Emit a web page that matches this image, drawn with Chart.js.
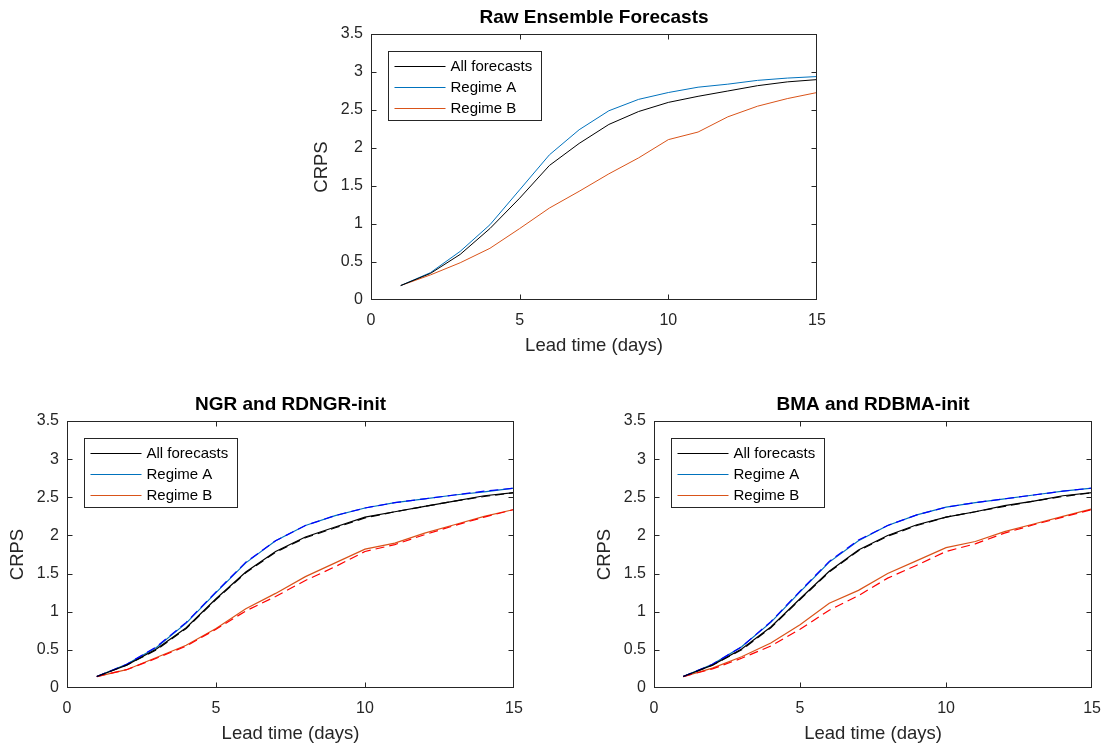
<!DOCTYPE html>
<html>
<head>
<meta charset="utf-8">
<script src="https://cdn.jsdelivr.net/npm/chart.js@4.4.1/dist/chart.umd.min.js"></script>
<style>
  html, body { margin: 0; padding: 0; background: #fff; overflow: hidden; width: 1112px; height: 743px; }
  canvas { position: absolute; }
</style>
</head>
<body>
<canvas id="cTop"></canvas>
<canvas id="cLeft"></canvas>
<canvas id="cRight"></canvas>
<script>
// ---------- DATA ----------
const leadDays = [1, 2, 3, 4, 5, 6, 7, 8, 9, 10, 11, 12, 13, 14, 15];
const xTickValues = [0, 5, 10, 15];
const yTickValues = [0, 0.5, 1, 1.5, 2, 2.5, 3, 3.5];
const legendLabels = ['All forecasts', 'Regime A', 'Regime B'];
const chartTitles = ['Raw Ensemble Forecasts', 'NGR and RDNGR-init', 'BMA and RDBMA-init'];
const xAxisLabel = 'Lead time (days)';
const yAxisLabel = 'CRPS';

// Raw ensemble
const rawAll = [0.19, 0.35, 0.60, 0.94, 1.34, 1.77, 2.06, 2.31, 2.48, 2.60, 2.68, 2.75, 2.82, 2.87, 2.90];
const rawA   = [0.19, 0.36, 0.64, 0.99, 1.45, 1.91, 2.24, 2.49, 2.64, 2.73, 2.80, 2.84, 2.89, 2.92, 2.94];
const rawB   = [0.19, 0.33, 0.49, 0.68, 0.94, 1.21, 1.43, 1.66, 1.87, 2.11, 2.21, 2.41, 2.55, 2.65, 2.73];

// NGR (solid) and RDNGR-init (dashed)
const ngrAll   = [0.15, 0.30, 0.51, 0.79, 1.17, 1.52, 1.79, 1.98, 2.11, 2.24, 2.31, 2.38, 2.45, 2.52, 2.56];
const ngrA     = [0.15, 0.31, 0.53, 0.85, 1.25, 1.64, 1.93, 2.13, 2.26, 2.36, 2.43, 2.48, 2.53, 2.57, 2.62];
const ngrB     = [0.15, 0.24, 0.40, 0.56, 0.78, 1.04, 1.24, 1.46, 1.64, 1.82, 1.90, 2.03, 2.14, 2.25, 2.34];
const rdngrAll = [0.15, 0.30, 0.50, 0.78, 1.16, 1.51, 1.78, 1.97, 2.10, 2.23, 2.31, 2.38, 2.45, 2.51, 2.56];
const rdngrA   = [0.15, 0.31, 0.54, 0.86, 1.26, 1.65, 1.93, 2.13, 2.26, 2.36, 2.43, 2.48, 2.53, 2.58, 2.62];
const rdngrB   = [0.15, 0.24, 0.39, 0.55, 0.77, 1.01, 1.20, 1.41, 1.59, 1.79, 1.88, 2.01, 2.13, 2.24, 2.34];

// BMA (solid) and RDBMA-init (dashed)
const bmaAll   = [0.15, 0.30, 0.51, 0.80, 1.17, 1.53, 1.81, 2.00, 2.14, 2.24, 2.31, 2.39, 2.45, 2.52, 2.56];
const bmaA     = [0.15, 0.31, 0.54, 0.86, 1.26, 1.65, 1.93, 2.13, 2.27, 2.37, 2.43, 2.48, 2.53, 2.58, 2.62];
const bmaB     = [0.15, 0.26, 0.41, 0.59, 0.83, 1.11, 1.28, 1.50, 1.67, 1.84, 1.92, 2.05, 2.15, 2.25, 2.35];
const rdbmaAll = [0.15, 0.30, 0.50, 0.79, 1.16, 1.52, 1.80, 1.99, 2.13, 2.24, 2.31, 2.38, 2.45, 2.51, 2.56];
const rdbmaA   = [0.15, 0.31, 0.54, 0.87, 1.27, 1.66, 1.94, 2.13, 2.27, 2.37, 2.43, 2.48, 2.53, 2.58, 2.62];
const rdbmaB   = [0.15, 0.25, 0.39, 0.55, 0.77, 1.02, 1.21, 1.44, 1.61, 1.79, 1.89, 2.03, 2.14, 2.24, 2.34];

// ---------- STYLE ----------
const FONT = '"Liberation Sans", Arial, Helvetica, sans-serif';
const AX = '#262626';
const C_ALL = '#000000', C_A = '#0072BD', C_B = '#D95319';
const C_ALL2 = '#000000', C_A2 = '#0000FF', C_B2 = '#FF0000';

const pts = arr => leadDays.map((d, i) => ({ x: d, y: arr[i] }));

function solid(label, arr, color, w) {
  return { label, data: pts(arr), borderColor: color, backgroundColor: color, borderWidth: w,
           pointRadius: 0, tension: 0, fill: false, order: 2 };
}
function dashed(arr, color, w) {
  return { label: '', data: pts(arr), borderColor: color, backgroundColor: color, borderWidth: w,
           borderDash: [9, 5], pointRadius: 0, tension: 0, fill: false, order: 1 };
}

// axes box with inward ticks (MATLAB look)
const axesBox = {
  id: 'axesBox',
  afterDatasetsDraw(chart) {
    const { ctx, chartArea: a, scales } = chart;
    const L = Math.round(a.left) + 0.5, R = Math.round(a.right) - 0.5;
    const T = Math.round(a.top) + 0.5, B = Math.round(a.bottom) - 0.5;
    ctx.save();
    ctx.strokeStyle = AX; ctx.lineWidth = 1;
    ctx.beginPath();
    const tl = 5;
    scales.x.ticks.forEach(t => {
      const px = Math.round(scales.x.getPixelForValue(t.value)) + 0.5;
      if (px <= L + 1 || px >= R - 1) return;
      ctx.moveTo(px, B); ctx.lineTo(px, B - tl);
      ctx.moveTo(px, T); ctx.lineTo(px, T + tl);
    });
    scales.y.ticks.forEach(t => {
      const py = Math.round(scales.y.getPixelForValue(t.value)) + 0.5;
      if (py <= T + 1 || py >= B - 1) return;
      ctx.moveTo(L, py); ctx.lineTo(L + tl, py);
      ctx.moveTo(R, py); ctx.lineTo(R - tl, py);
    });
    ctx.stroke();
    ctx.strokeRect(L, T, R - L, B - T);
    ctx.restore();
  }
};

// boxed legend inside the axes
const boxLegend = {
  id: 'boxLegend',
  afterDatasetsDraw(chart, args, o) {
    const { ctx, chartArea: a } = chart;
    const items = chart.data.datasets.filter(d => d.label);
    const x0 = Math.round(a.left + o.dx) + 0.5, y0 = Math.round(a.top + o.dy) + 0.5;
    ctx.save();
    ctx.fillStyle = '#fff';
    ctx.fillRect(x0, y0, o.w, o.h);
    ctx.strokeStyle = AX; ctx.lineWidth = 1;
    ctx.strokeRect(x0, y0, o.w, o.h);
    ctx.font = '15px ' + FONT;
    ctx.textBaseline = 'middle';
    items.forEach((d, i) => {
      const y = Math.round(y0 + o.row0 + i * o.rowH) + 0.5;
      ctx.strokeStyle = d.borderColor; ctx.lineWidth = Math.max(1.2, d.borderWidth);
      ctx.beginPath(); ctx.moveTo(x0 + 6, y); ctx.lineTo(x0 + 57, y); ctx.stroke();
      ctx.fillStyle = '#000';
      ctx.fillText(d.label, x0 + 62, y);
    });
    ctx.restore();
  }
};

function makeChart(id, canvasRect, area, title, datasets) {
  const cv = document.getElementById(id);
  cv.width = canvasRect.w; cv.height = canvasRect.h;
  cv.style.left = canvasRect.left + 'px'; cv.style.top = canvasRect.top + 'px';
  cv.style.width = canvasRect.w + 'px'; cv.style.height = canvasRect.h + 'px';
  const la = { l: area.l - canvasRect.left, r: area.r - canvasRect.left, t: area.t - canvasRect.top, b: area.b - canvasRect.top };
  const titleSize = 19, titleLH = titleSize * 1.2;
  const tPadTop = la.t - 16 - titleLH / 2;
  const tPadBot = la.t - titleLH - tPadTop;
  const labSize = 18.5, labLH = labSize * 1.2;
  const xTitlePadBottom = (canvasRect.h - la.b) - 46 - labLH / 2;
  const yTitlePadTop = la.l - 49 - labLH / 2;
  return new Chart(cv, {
    type: 'line',
    data: { datasets },
    options: {
      responsive: false, animation: false, devicePixelRatio: 1,
      layout: { padding: { left: 0, top: 0, bottom: 0, right: canvasRect.w - la.r }, autoPadding: false },
      plugins: {
        legend: { display: false },
        tooltip: { enabled: false },
        title: { display: true, text: title, fullSize: false, color: '#000',
                 font: { family: FONT, size: titleSize, weight: 'bold', lineHeight: 1.2 },
                 padding: { top: tPadTop, bottom: tPadBot } },
        boxLegend: { dx: 17, dy: 17, w: 153, h: 69, row0: 14.5, rowH: 21 }
      },
      scales: {
        x: {
          type: 'linear', min: 0, max: 15,
          afterBuildTicks: s => { s.ticks = xTickValues.map(v => ({ value: v })); },
          afterFit: s => { s.height = canvasRect.h - la.b; },
          grid: { display: false, drawTicks: false }, border: { display: false },
          ticks: { color: AX, padding: 11, font: { family: FONT, size: 16, lineHeight: 1.2 }, maxRotation: 0,
                   callback: v => String(v) },
          title: { display: true, text: xAxisLabel, color: AX,
                   font: { family: FONT, size: labSize, lineHeight: 1.2 },
                   padding: { top: 0, bottom: xTitlePadBottom } }
        },
        y: {
          type: 'linear', min: 0, max: 3.5,
          afterBuildTicks: s => { s.ticks = yTickValues.map(v => ({ value: v })); },
          afterFit: s => { s.width = la.l; },
          grid: { display: false, drawTicks: false }, border: { display: false },
          ticks: { color: AX, padding: 8, font: { family: FONT, size: 16, lineHeight: 1.2 },
                   callback: v => String(v) },
          title: { display: true, text: yAxisLabel, color: AX,
                   font: { family: FONT, size: labSize, lineHeight: 1.2 },
                   padding: { top: yTitlePadTop, bottom: 0 } }
        }
      }
    },
    plugins: [axesBox, boxLegend]
  });
}

makeChart('cTop', { left: 300, top: 0, w: 540, h: 360 }, { l: 371, r: 817, t: 34, b: 300 }, chartTitles[0], [
  solid(legendLabels[0], rawAll, C_ALL, 1),
  solid(legendLabels[1], rawA, C_A, 1),
  solid(legendLabels[2], rawB, C_B, 1)
]);

makeChart('cLeft', { left: 0, top: 380, w: 545, h: 363 }, { l: 67, r: 514, t: 421, b: 688 }, chartTitles[1], [
  solid(legendLabels[0], ngrAll, C_ALL, 1.2),
  solid(legendLabels[1], ngrA, C_A, 1.2),
  solid(legendLabels[2], ngrB, C_B, 1.2),
  dashed(rdngrAll, C_ALL2, 1.2),
  dashed(rdngrA, C_A2, 1.2),
  dashed(rdngrB, C_B2, 1.2)
]);

makeChart('cRight', { left: 580, top: 380, w: 532, h: 363 }, { l: 654, r: 1101, t: 421, b: 688 }, chartTitles[2], [
  solid(legendLabels[0], bmaAll, C_ALL, 1.2),
  solid(legendLabels[1], bmaA, C_A, 1.2),
  solid(legendLabels[2], bmaB, C_B, 1.2),
  dashed(rdbmaAll, C_ALL2, 1.2),
  dashed(rdbmaA, C_A2, 1.2),
  dashed(rdbmaB, C_B2, 1.2)
]);
</script>
</body>
</html>
